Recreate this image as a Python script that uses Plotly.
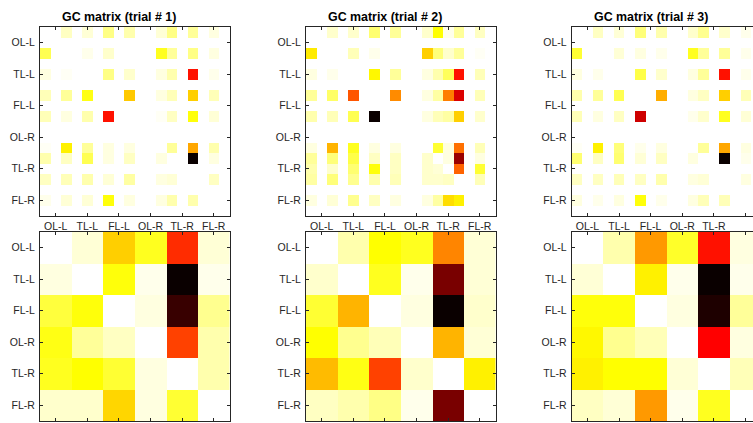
import plotly.graph_objects as go

regions = ["OL-L", "TL-L", "FL-L", "OL-R", "TL-R", "FL-R"]
titles = ["GC matrix (trial # 1)", "GC matrix (trial # 2)", "GC matrix (trial # 3)"]

# 18x18 channel-level GC matrices (normalised to each trial's max)
Z = [0] * 18
trial1 = [
    [0, 0, .06, 0, .04, 0, .12, 0, .08, 0, 0, .04, .12, 0, .10, 0, .03, 0],
    Z,
    [.17, 0, 0, 0, .02, 0, .05, 0, 0, 0, 0, .22, .10, 0, .12, 0, .03, 0],
    Z,
    [.03, 0, .01, 0, 0, 0, .12, 0, .05, 0, 0, .03, .08, 0, .60, 0, .02, 0],
    Z,
    [.07, 0, .10, 0, .23, 0, 0, 0, .33, 0, 0, .03, .07, 0, .32, 0, .07, 0],
    Z,
    [.07, 0, .03, 0, .08, 0, .60, 0, 0, 0, 0, .01, .06, 0, .24, 0, .04, 0],
    Z,
    Z,
    [.01, 0, .27, 0, .10, 0, .03, 0, .03, 0, 0, 0, .10, 0, .38, 0, .08, 0],
    [.08, 0, .06, 0, .17, 0, .03, 0, .06, 0, 0, .03, 0, 0, 1.0, 0, .03, 0],
    Z,
    [.06, 0, .07, 0, .08, 0, .04, 0, .09, 0, 0, .03, .04, 0, 0, 0, .06, 0],
    Z,
    [.02, 0, .04, 0, .04, 0, .24, 0, .03, 0, 0, .03, .08, 0, .08, 0, 0, 0],
    Z,
]
trial2 = [
    [0, 0, .05, 0, .05, 0, .14, 0, .10, 0, 0, .05, .25, .02, .10, 0, .06, 0],
    Z,
    [.28, 0, 0, 0, .07, 0, .02, 0, 0, 0, 0, .32, .13, .05, .10, 0, .01, 0],
    Z,
    [.03, 0, .02, 0, 0, 0, .26, 0, .10, 0, 0, .03, .08, .16, .60, 0, .07, 0],
    Z,
    [.10, 0, .15, 0, .50, 0, 0, 0, .42, 0, 0, .03, .09, .44, .68, 0, .07, 0],
    Z,
    [.08, 0, .07, 0, .17, 0, 1.0, 0, 0, 0, 0, .03, .07, .09, .32, 0, .05, 0],
    Z,
    Z,
    [.03, 0, .36, 0, .22, 0, .03, 0, .03, 0, 0, 0, .20, .03, .46, 0, .07, 0],
    [.10, 0, .13, 0, .18, 0, .06, 0, .06, 0, 0, .05, 0, .03, .78, 0, .03, 0],
    [.08, 0, .05, 0, .14, 0, .24, 0, .06, 0, 0, .05, .04, 0, .48, 0, .20, 0],
    [.09, 0, .13, 0, .11, 0, .08, 0, .07, 0, 0, .05, .05, .06, 0, 0, .07, 0],
    Z,
    [.03, 0, .04, 0, .11, 0, .06, 0, .03, 0, 0, .03, .09, .30, .27, 0, 0, 0],
    Z,
]
trial3 = [
    [0, 0, .06, 0, .04, 0, .13, 0, .08, 0, 0, .05, .11, 0, .05, 0, .02, 0],
    Z,
    [.20, 0, 0, 0, .04, 0, .03, 0, .02, 0, 0, .22, .10, 0, .10, 0, .02, 0],
    Z,
    [.03, 0, .02, 0, 0, 0, .18, 0, .05, 0, 0, .03, .10, 0, .60, 0, .02, 0],
    Z,
    [.08, 0, .10, 0, .17, 0, 0, 0, .37, 0, 0, .03, .06, 0, .32, 0, .07, 0],
    Z,
    [.07, 0, .03, 0, .06, 0, .70, 0, 0, 0, 0, .02, .05, 0, .22, 0, .04, 0],
    Z,
    Z,
    [.01, 0, .27, 0, .13, 0, .02, 0, .03, 0, 0, 0, .10, 0, .38, 0, .03, 0],
    [.14, 0, .06, 0, .14, 0, .04, 0, .06, 0, 0, .03, 0, 0, 1.0, 0, .02, 0],
    Z,
    [.06, 0, .06, 0, .07, 0, .06, 0, .08, 0, 0, .03, .04, 0, 0, 0, .03, 0],
    Z,
    [.03, 0, .02, 0, .03, 0, .24, 0, .02, 0, 0, .03, .07, 0, .07, 0, 0, 0],
    Z,
]

# 6x6 region-level GC matrices
region1 = [
    [0, .04, .32, .22, .56, .04],
    [.03, 0, .24, .02, 1.0, .02],
    [.19, .24, 0, .03, .93, .11],
    [.23, .10, .06, 0, .53, .08],
    [.22, .25, .20, .03, 0, .08],
    [.05, .05, .31, .03, .20, 0],
]
region2 = [
    [0, .08, .25, .22, .43, .04],
    [.05, 0, .22, .02, .83, .04],
    [.20, .36, 0, .03, 1.0, .05],
    [.25, .11, .07, 0, .36, .04],
    [.35, .23, .53, .05, 0, .27],
    [.06, .08, .12, .02, .83, 0],
]
region3 = [
    [0, .08, .40, .21, .60, .03],
    [.04, 0, .27, .02, 1.0, .02],
    [.24, .24, 0, .03, .97, .10],
    [.26, .11, .07, 0, .625, .03],
    [.27, .25, .25, .04, 0, .07],
    [.06, .04, .40, .02, .22, 0],
]

# reversed MATLAB "hot": white -> yellow -> red -> black
hot_r = [[0.0, "rgb(255,255,255)"], [0.25, "rgb(255,255,0)"],
         [0.625, "rgb(255,0,0)"], [1.0, "rgb(10,0,0)"]]

W, H = 753, 423
INK = "#262626"
FONT = "Liberation Sans, Arial, Helvetica, sans-serif"

lefts = [40, 306, 571.7]
pw = 189.5
top_y = (27, 216)
bot_y = (232, 421)

fig = go.Figure()
tops = [trial1, trial2, trial3]
bots = [region1, region2, region3]

# draw bottom row first so top-row tick labels stay visible above it
order = [(i, 1) for i in range(3)] + [(i, 0) for i in range(3)]

for (i, j) in order:
    x0 = lefts[i]
    x1 = min(x0 + pw, W)
    vis = (x1 - x0) / pw
    mat, n, (ya, yb) = [(tops[i], 18, top_y), (bots[i], 6, bot_y)][j]
    k = len(fig.data) + 1
    xa = "x" if k == 1 else f"x{k}"
    yaname = "y" if k == 1 else f"y{k}"
    fig.add_trace(go.Heatmap(z=mat, x=list(range(n)), y=list(range(n)),
                             colorscale=hot_r, zmin=0, zmax=1, showscale=False,
                             xaxis=xa, yaxis=yaname, hoverinfo="skip"))
    tv = [1, 4, 7, 10, 13, 16] if n == 18 else [0, 1, 2, 3, 4, 5]
    common = dict(showline=True, linecolor=INK, linewidth=1, ticks="inside",
                  ticklen=3, tickcolor=INK, tickwidth=1, showgrid=False,
                  zeroline=False, tickvals=tv, ticktext=regions,
                  tickfont=dict(family=FONT, size=10.5, color=INK))
    xkey = "xaxis" if k == 1 else f"xaxis{k}"
    ykey = "yaxis" if k == 1 else f"yaxis{k}"
    fig.update_layout(**{
        xkey: dict(common, domain=[x0 / W, x1 / W], anchor=yaname,
                   range=[-0.5, -0.5 + n * vis], mirror="ticks",
                   showticklabels=(j == 0), ticklabelstandoff=0),
        ykey: dict(common, domain=[1 - yb / H, 1 - ya / H], anchor=xa,
                   range=[n - 0.5, -0.5],
                   mirror=("ticks" if i < 2 else False),
                   ticklabelstandoff=2),
    })

title_cx = [118.5, 385, 650.5]
for i in range(3):
    fig.add_annotation(text="<b>" + titles[i] + "</b>", x=title_cx[i] / W, y=1 - 17 / H,
                       xref="paper", yref="paper", showarrow=False,
                       xanchor="center", yanchor="middle",
                       font=dict(family=FONT, size=12.4, color="black"))

fig.update_layout(width=W, height=H, margin=dict(l=0, r=0, t=0, b=0),
                  paper_bgcolor="white", plot_bgcolor="white", showlegend=False)

fig.write_html("out.html")
